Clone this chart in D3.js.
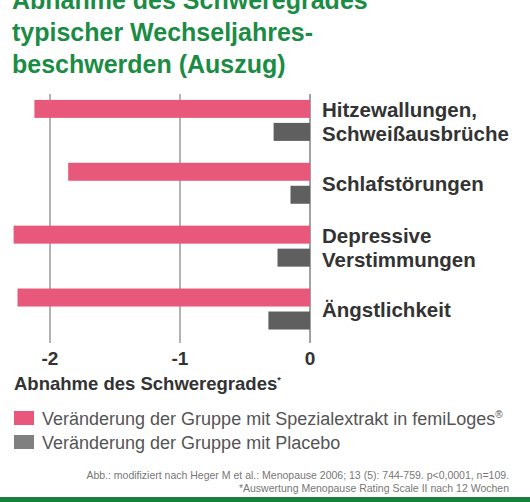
<!DOCTYPE html>
<html><head><meta charset="utf-8">
<script src="https://cdn.jsdelivr.net/npm/d3@7"></script>
<style>body{margin:0;background:#fff}text{font-family:"Liberation Sans",Arial,sans-serif}</style>
</head><body>
<script>
var categories = [["Hitzewallungen,", "Schweißausbrüche"], ["Schlafstörungen"], ["Depressive", "Verstimmungen"], ["Ängstlichkeit"]];
var extrakt = [-2.12, -1.86, -2.28, -2.25];
var placebo = [-0.28, -0.15, -0.25, -0.32];
var ticks = [-2, -1, 0];
var legendLabels = ["Veränderung der Gruppe mit Spezialextrakt in femiLoges", "Veränderung der Gruppe mit Placebo"];

var width = 530, height = 502;
var svg = d3.select("body").append("svg").attr("width", width).attr("height", height);

// title
["Abnahme des Schweregrades", "typischer Wechseljahres-", "beschwerden (Auszug)"].forEach(function(t, i) {
  svg.append("text").attr("x", 12).attr("y", 9 + i * 32).attr("fill", "#1b8c44")
    .attr("font-size", 25).attr("font-weight", "bold").text(t);
});

var x = d3.scaleLinear().domain([-2, 0]).range([50, 310]);
var y = d3.scaleBand().domain(d3.range(categories.length)).range([94, 343]).paddingInner(0.1).paddingOuter(0.03);

svg.append("g").selectAll("line").data(ticks).enter().append("line")
  .attr("x1", d => x(d)).attr("x2", d => x(d)).attr("y1", 94).attr("y2", 343)
  .attr("stroke", d => d === 0 ? "#444" : "#666").attr("stroke-width", 1);

var bh = 18;
svg.append("g").selectAll("rect").data(extrakt).enter().append("rect")
  .attr("x", d => x(d)).attr("width", d => x(0) - x(d))
  .attr("y", (d, i) => y(i) + 4).attr("height", bh).attr("fill", "#e8587a");
svg.append("g").selectAll("rect").data(placebo).enter().append("rect")
  .attr("x", d => x(d)).attr("width", d => x(0) - x(d))
  .attr("y", (d, i) => y(i) + 27).attr("height", bh).attr("fill", "#5f5f5f");

svg.append("g").selectAll("text").data(categories).enter().append("text")
  .attr("x", 322).attr("font-size", 20.5).attr("font-weight", "bold").attr("fill", "#333")
  .each(function(d, i) {
    var t = d3.select(this);
    var cy = y(i) + y.bandwidth() / 2 + (d.length === 1 ? -3 : -2);
    d.forEach(function(line, j) {
      t.append("tspan").attr("x", 322)
        .attr("y", cy + 7 + (j - (d.length - 1) / 2) * 24).text(line);
    });
  });

svg.append("g").selectAll("text").data(ticks).enter().append("text")
  .attr("x", d => x(d)).attr("y", 365).attr("text-anchor", "middle")
  .attr("font-size", 19).attr("font-weight", "bold").attr("fill", "#333").text(d => d);

var at = svg.append("text").attr("x", 14).attr("y", 390).attr("font-size", 18.5)
  .attr("font-weight", "bold").attr("fill", "#333").text("Abnahme des Schweregrades");
at.append("tspan").attr("font-size", 9).attr("dy", -7).text("*");

var lc = ["#e8587a", "#808080"];
legendLabels.forEach(function(l, i) {
  svg.append("rect").attr("x", 14).attr("y", 411 + i * 24).attr("width", 20).attr("height", 14).attr("fill", lc[i]);
  var lt = svg.append("text").attr("x", 42).attr("y", 425 + i * 24).attr("font-size", 18).attr("fill", "#555").text(l);
  if (i === 0) lt.append("tspan").attr("font-size", 10).attr("dy", -7).text("®");
});

svg.append("text").attr("x", 509).attr("y", 479).attr("text-anchor", "end").attr("font-size", 10.5).attr("fill", "#777")
  .text("Abb.: modifiziert nach Heger M et al.: Menopause 2006; 13 (5): 744-759. p<0,0001, n=109.");
svg.append("text").attr("x", 509).attr("y", 492).attr("text-anchor", "end").attr("font-size", 10.5).attr("fill", "#777")
  .text("*Auswertung Menopause Rating Scale II nach 12 Wochen");
svg.append("rect").attr("x", 0).attr("y", 497).attr("width", width).attr("height", 5).attr("fill", "#1a7f3c");
</script>
</body></html>
